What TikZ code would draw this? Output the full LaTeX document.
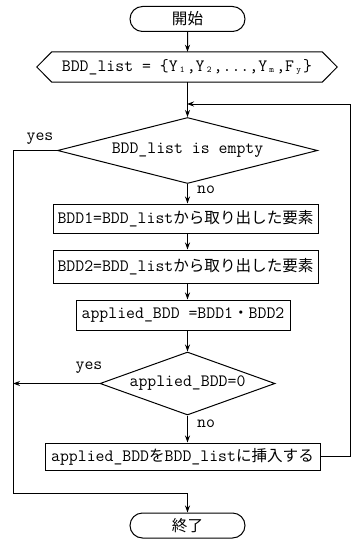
\documentclass[tikz,border=0pt]{standalone}
\usepackage{fontspec}
\setmainfont{Latin Modern Mono}
\newfontfamily\jp[Scale=0.9]{Noto Sans CJK JP}
\usetikzlibrary{shapes.geometric,shapes.misc,arrows.meta}
\newcommand{\J}[1]{{\jp #1}}
\newcommand{\sbx}[1]{\makebox[0.525em][c]{\raisebox{-0.15ex}{\fontsize{9}{10}\selectfont #1}}}
\begin{document}
\begin{tikzpicture}[x=1pt,y=-1pt,
  every node/.style={font=\fontsize{17.3}{20}\selectfont},
  ln/.style={line width=1pt},
  arr/.style={ln,-{Stealth[length=7pt,width=5pt]}},
  term/.style={draw,ln,rounded rectangle,minimum width=115pt,minimum height=25pt,inner sep=0pt},
  proc/.style={draw,ln,rectangle,inner sep=0pt},
  dec/.style={draw,ln,diamond,inner sep=0pt},
  lbl/.style={inner sep=0pt}]
\useasboundingbox (0,0) rectangle (354,543);

\node[term] (start) at (187.5,19) {\J{開始}};
\node[inner sep=0pt,minimum width=270pt,minimum height=30pt] (init) at (187,67)
  {BDD\_list = \{Y\sbx{1},Y\sbx{2},...,Y\sbx{m},F\sbx{y}\}};
\draw[ln] (init.north west) -- (init.north east) -- ([xshift=15pt]init.east)
  -- (init.south east) -- (init.south west) -- ([xshift=-15pt]init.west) -- cycle;

\coordinate (m1) at (187,104);
\coordinate (R) at (350,104);
\coordinate (L) at (13,493);

\node[dec,aspect=3.94,minimum width=260pt,minimum height=66pt] (d1) at (187.5,150.5) {BDD\_list is empty};
\node[proc,minimum width=265pt,minimum height=29pt] (b1) at (185.5,218.5) {BDD1=BDD\_list\J{から取り出した要素}};
\node[proc,minimum width=265pt,minimum height=33pt] (b2) at (185.5,266.5) {BDD2=BDD\_list\J{から取り出した要素}};
\node[proc,minimum width=214pt,minimum height=30pt] (b3) at (183,315) {applied\_BDD =BDD1\J{・}BDD2};
\node[dec,aspect=2.78,minimum width=175pt,minimum height=63pt] (d2) at (187.5,383.5) {applied\_BDD=0};
\node[proc,minimum width=275pt,minimum height=27pt] (b4) at (182.5,456.5) {applied\_BDD\J{を}BDD\_list\J{に挿入する}};
\node[term] (end) at (187.5,525.5) {\J{終了}};

\node[lbl] (y1) at (40,139) {yes};
\node[lbl] (n1) at (206,190) {no};
\node[lbl] (y2) at (89,368) {yes};
\node[lbl] (n2) at (206,424) {no};

\draw[arr] (start) -- (init.north -| start);
\draw[arr] (init.south -| d1.north) -- (d1.north);
\draw[arr] (d1.south) -- (d1.south |- b1.north);
\draw[arr] (b1.south -| d1.south) -- (d1.south |- b2.north);
\draw[arr] (b2.south -| d1.south) -- (d1.south |- b3.north);
\draw[arr] (b3.south -| d2.north) -- (d2.north);
\draw[arr] (d2.south) -- (d2.south |- b4.north);
\draw[arr] (b4.east) -- (b4.east -| R) -- (R) -- (m1);
\draw[arr] (d1.west) -- (d1.west -| L) -- (L) -| (end.north);
\draw[arr] (d2.west) -- (d2.west -| L);
\end{tikzpicture}
\end{document}
